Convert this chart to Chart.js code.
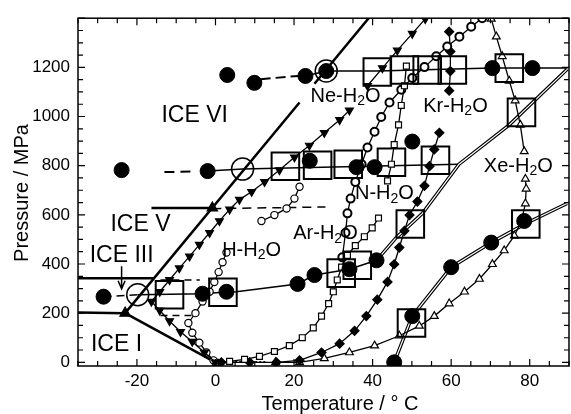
<!DOCTYPE html>
<html>
<head>
<meta charset="utf-8">
<script src="https://cdn.jsdelivr.net/npm/chart.js@4.4.0/dist/chart.umd.min.js"></script>
<style>
  html, body { margin: 0; padding: 0; background: #fff; }
</style>
</head>
<body>
<canvas id="phase" width="571" height="414"></canvas>
<script>
// Phase diagram of gas-water systems, temperature in degC, pressure in MPa

// axes
const tTicks = [-20, 0, 20, 40, 60, 80];
const pTicks = [0, 200, 400, 600, 800, 1000, 1200];

// ice boundaries (thick solid)
const iceIMeltT = [-23, 0];
const iceIMeltP = [200, 0];
const iceI3T = [-35, -23];
const iceI3P = [203, 200];
const iceMeltT = [-23, 21.4, null, 25.2, 39];
const iceMeltP = [200, 1057, null, 1133, 1400];
const ice35T = [-35, -15.6];
const ice35P = [342, 342];
const ice56T = [-16.3, -0.8];
const ice56P = [628, 628];
// metastable extensions (dashed)
const ext56T = [-0.8, 28];
const ext56P = [625, 632];
const ext35T = [-14, -4];
const ext35P = [335, 335];
const extI3T = [-14, -6];
const extI3P = [190, 190];
const dottedT = [3, 13];
const dottedP = [3, 3];
const tripleT = [-23, -0.8];
const tripleP = [200, 628];

// hydrate curves
const hT = [-0.5, -2.3, -4.1, -5.9, -6.9, -5.1, -3.3, -1.5, -0.3, 0.8, 1.8, 2.8, null, 11.7, 15.0, 18.1, 20.1, 21.4];
const hP = [8, 40, 80, 120, 160, 200, 247, 287, 327, 367, 407, 447, null, 575, 599, 626, 666, 714];

const neT = [0, -2.8, -5.9, -8.9, -11.7, -14.2, -16.3, -14.2, -11.7, -9.2, -6.6, -4.1, -1.5, 1.0, 3.6, 6.1, 9.2, 12.5, 16.3, 20.1, 23.9, 27.7, 31.6, 34.1, null, 38.7, 42.5, 46.3, 50.1, 53.4];
const neP = [0, 40, 84, 124, 168, 211, 247, 287, 335, 383, 431, 479, 527, 575, 622, 662, 694, 734, 782, 834, 882, 934, 986, 1025, null, 1125, 1197, 1269, 1337, 1397];

const arT = [0, 3.6, 7.4, 11.2, 15.0, 18.8, 22.1, 24.9, 27.0, 28.8, 30.0, 31.0, 32.1, 33.6, 35.6, 37.9, 39.9, 41.5, null, 43.8, 44.8, 45.5, 46.6, 47.3, 48.1, 48.6];
const arP = [0, 4, 12, 24, 44, 68, 100, 140, 188, 239, 287, 335, 387, 435, 475, 511, 547, 587, null, 738, 806, 886, 966, 1045, 1125, 1205];

const nT = [32.3, 33.1, 33.6, 34.4, 35.6, 37.2, 38.7, 40.5, 42.2, 44.3, 47.3, 50.1, 53.2, 56.2, 59.0, 62.1, 65.1, 67.9];
const nP = [427, 527, 606, 666, 734, 806, 874, 938, 998, 1057, 1109, 1157, 1201, 1245, 1285, 1325, 1365, 1400];

const krT = [1.5, 8.7, 15.5, 21.4, 27.0, 31.6, 35.4, 38.4, 41.2, 43.8, 45.5, 46.8, 48.1, 49.4, 51.4, 53.2, 54.5, 55.7, 57.0, null, 59.5, 59.8, 59.8, 59.5];
const krP = [0, 0, 0, 8, 40, 76, 128, 188, 255, 327, 399, 467, 535, 599, 654, 718, 798, 866, 934, null, 1105, 1185, 1265, 1345];

const xeT = [15.3, 21.4, 27.7, 34.1, 40.5, 46.8, 51.9, 55.7, 59.5, 63.4, 67.2, 70.5, 73.5, 76.1, 77.9, 78.9, 79.1, 78.9, null, 78.6, 77.6, 76.3, 74.8, 73.0, 71.5, 70.2];
const xeP = [0, 0, 16, 40, 68, 108, 148, 188, 239, 287, 339, 399, 455, 515, 575, 646, 706, 746, null, 858, 966, 1065, 1145, 1245, 1325, 1397];

// guide lines through the large symbols
const row300DashT = [-28.5, -19.8];
const row300DashP = [267, 275];
const row300T = [-19.8, -11.7, -3.3, 2.8, 5.3, 20.9, 25.2, 34.1, 41];
const row300P = [275, 277, 279, 286, 287, 319, 355, 379, 415];
const row800DashT = [-13, -6];
const row800DashP = [774, 776];
const row800T = [-2, 6.9, 62];
const row800P = [778, 786, 806];
const row1200DashT = [11.5, 21];
const row1200DashP = [1152, 1165];
const row1200T = [22.9, 28.2, 41.2, 70.5, 89.6];
const row1200P = [1165, 1185, 1185, 1197, 1197];
const xeUpT = [41, 46, 52.7, 62, 74.8, 89.6];
const xeUpP = [415, 507, 606, 806, 966, 1193];
const xeLowT = [45.5, 50.1, 60, 70.2, 79, 89.5];
const xeLowP = [0, 188, 387, 487, 565, 646];

// large symbols
const bigDotT = [-28.5, -3.3, 2.8, 20.9, 25.2, 34.1, 41, 45.5, 50.1, 60, 70.2, 78.6, -23.9, -2, 24, 35.9, 40.5, 50.1, 3, 9.9, 22.9, 28.2, 70.5, 80.7];
const bigDotP = [267, 279, 287, 319, 355, 379, 415, 0, 188, 387, 487, 575, 782, 778, 820, 794, 794, 898, 1169, 1137, 1165, 1185, 1197, 1197];
const bigSqT = [-11.7, 1.9, 32, 36.1, 49.9, 49.6, 79, 17.8, 26, 33.8, 44.8, 56, 41.2, 48.1, 53.9, 60.3, 74.8, 77.9];
const bigSqP = [275, 285, 363, 395, 160, 563, 563, 798, 802, 806, 814, 822, 1181, 1189, 1189, 1189, 1197, 1017];
const ringT = [-19.8, 6.9, 28.2];
const ringP = [275, 786, 1185];

// text on the plot
const labels = [
  { text: 'ICE VI', t: -5.3, p: 1005, big: true },
  { text: 'ICE V', t: -19.1, p: 559, big: true },
  { text: 'ICE III', t: -23.9, p: 435, big: true },
  { text: 'ICE I', t: -25.2, p: 72, big: true },
  { text: 'Ne-H2O', t: 33.1, p: 1081 },
  { text: 'Kr-H2O', t: 61.1, p: 1041 },
  { text: 'N-H2O', t: 43, p: 686 },
  { text: 'Xe-H2O', t: 77.1, p: 798 },
  { text: 'Ar-H2O', t: 28, p: 523 },
  { text: 'H-H2O', t: 9.2, p: 455 }
];
const arrowT = [-23.9, -23.9];
const arrowP = [391, 299];

const FONT = '"Liberation Sans", Arial, Helvetica, sans-serif';

// split a T/P pair at null entries
function segments(T, P) {
  const out = [[]];
  T.forEach((t, i) => {
    if (t === null) out.push([]);
    else out[out.length - 1].push({ x: t, y: P[i] });
  });
  return out.filter(s => s.length);
}

const datasets = [];
function addLine(T, P, opt) {
  segments(T, P).forEach(seg => datasets.push(Object.assign({
    data: seg, showLine: true, pointRadius: 0, borderColor: '#000',
    borderWidth: 2.5, tension: 0, order: 10
  }, opt)));
}
function addMarks(T, P, opt) {
  segments(T, P).forEach(seg => datasets.push(Object.assign({
    data: seg, showLine: true, borderColor: '#000', borderWidth: 1.3,
    pointBorderColor: '#000', pointBorderWidth: 1.2, tension: 0, order: 5
  }, opt)));
}

// ice
addLine(iceIMeltT, iceIMeltP, {});
addLine(iceI3T, iceI3P, {});
addLine(iceMeltT, iceMeltP, {});
addLine(ice35T, ice35P, {});
addLine(ice56T, ice56P, {});
addLine(ext56T, ext56P, { borderWidth: 1.5, borderDash: [9, 6] });
addLine(ext35T, ext35P, { borderWidth: 1.5, borderDash: [7, 5] });
addLine(extI3T, extI3P, { borderWidth: 1.5, borderDash: [7, 5] });
addLine(dottedT, dottedP, { borderWidth: 1, borderDash: [2, 2] });

// guide lines
addLine(row300DashT, row300DashP, { borderWidth: 1.5, borderDash: [8, 5], order: 9 });
addLine(row300T, row300P, { borderWidth: 1.5, order: 9 });
addLine(row800DashT, row800DashP, { borderWidth: 2, borderDash: [10, 6], order: 9 });
addLine(row800T, row800P, { borderWidth: 1.5, order: 9 });
addLine(row1200DashT, row1200DashP, { borderWidth: 2, borderDash: [10, 5], order: 9 });
addLine(row1200T, row1200P, { borderWidth: 1.5, order: 9 });
// double lines: dark edge then white core
addLine(xeUpT, xeUpP, { borderWidth: 3.5, order: 9 });
addLine(xeUpT, xeUpP, { borderWidth: 1.2, borderColor: '#fff', order: 8 });
addLine(xeLowT, xeLowP, { borderWidth: 3.5, order: 9 });
addLine(xeLowT, xeLowP, { borderWidth: 1.2, borderColor: '#fff', order: 8 });

// hydrate curves
addMarks(neT, neP, { pointStyle: 'triangle', rotation: 180, pointRadius: 4.5, pointBackgroundColor: '#000' });
addMarks(hT, hP, { pointStyle: 'circle', pointRadius: 3.6, pointBackgroundColor: '#fff' });
addMarks(arT, arP, { pointStyle: 'rect', pointRadius: 4.2, pointBackgroundColor: '#fff' });
addMarks(nT, nP, { pointStyle: 'circle', pointRadius: 4, pointBorderWidth: 2, pointBackgroundColor: '#fff' });
addMarks(krT, krP, { pointStyle: 'rectRot', pointRadius: 4.5, pointBackgroundColor: '#000' });
addMarks(xeT, xeP, { pointStyle: 'triangle', pointRadius: 4.5, pointBackgroundColor: '#fff' });
addMarks(tripleT, tripleP, { showLine: false, pointStyle: 'triangle', pointRadius: 6, pointBackgroundColor: '#000', order: 4 });

// large symbols
datasets.push({ data: segments(bigDotT, bigDotP)[0], pointStyle: 'circle', pointRadius: 7.5,
  pointBackgroundColor: '#000', pointBorderColor: '#000', order: 2, clip: 0 });
datasets.push({ data: segments(bigSqT, bigSqP)[0], pointStyle: 'rect', pointRadius: 19.5,
  pointBackgroundColor: 'rgba(0,0,0,0)', pointBorderColor: '#000', pointBorderWidth: 2, order: 1 });
datasets.push({ data: segments(ringT, ringP)[0], pointStyle: 'circle', pointRadius: 11,
  pointBackgroundColor: 'rgba(0,0,0,0)', pointBorderColor: '#000', pointBorderWidth: 1.5, order: 1 });

// text with subscript digits
function drawSubText(ctx, text, cx, cy, size) {
  const parts = [...text].map(ch => ({ ch, sub: /\d/.test(ch) }));
  let w = 0;
  parts.forEach(p => {
    ctx.font = (p.sub ? Math.round(size * 0.72) : size) + 'px ' + FONT;
    p.w = ctx.measureText(p.ch).width;
    w += p.w;
  });
  let px = cx - w / 2;
  parts.forEach(p => {
    ctx.font = (p.sub ? Math.round(size * 0.72) : size) + 'px ' + FONT;
    ctx.fillText(p.ch, px, p.sub ? cy + size * 0.25 : cy);
    px += p.w;
  });
}

const paper = {
  id: 'paper',
  beforeDraw(chart) {
    const ctx = chart.ctx;
    ctx.save();
    ctx.fillStyle = '#fff';
    ctx.fillRect(0, 0, chart.width, chart.height);
    ctx.restore();
  }
};

// box and inward ticks on all four sides
const frame = {
  id: 'frame',
  afterDatasetsDraw(chart) {
    const { ctx, chartArea: a, scales: { x, y } } = chart;
    ctx.save();
    ctx.strokeStyle = '#000';
    ctx.lineWidth = 1.5;
    ctx.strokeRect(a.left, a.top, a.right - a.left, a.bottom - a.top);
    ctx.lineWidth = 1.2;
    ctx.beginPath();
    for (let t = -35; t <= 90; t += 5) {
      const px = x.getPixelForValue(t);
      const len = t % 20 === 0 ? 7 : 5;
      ctx.moveTo(px, a.bottom); ctx.lineTo(px, a.bottom - len);
      ctx.moveTo(px, a.top); ctx.lineTo(px, a.top + len);
    }
    for (let p = 0; p <= 1400; p += 50) {
      const py = y.getPixelForValue(p);
      const len = p % 200 === 0 ? 7 : 5;
      ctx.moveTo(a.left, py); ctx.lineTo(a.left + len, py);
      ctx.moveTo(a.right, py); ctx.lineTo(a.right - len, py);
    }
    ctx.stroke();
    ctx.restore();
  }
};

const notes = {
  id: 'notes',
  afterDatasetsDraw(chart) {
    const { ctx, scales: { x, y } } = chart;
    ctx.save();
    ctx.fillStyle = '#000';
    ctx.strokeStyle = '#000';
    ctx.textAlign = 'left';
    ctx.textBaseline = 'middle';
    labels.forEach(l => {
      drawSubText(ctx, l.text, x.getPixelForValue(l.t), y.getPixelForValue(l.p), l.big ? 23 : 20);
    });
    // arrow under ICE III
    const ax = x.getPixelForValue(arrowT[0]);
    const y0 = y.getPixelForValue(arrowP[0]), y1 = y.getPixelForValue(arrowP[1]);
    ctx.lineWidth = 1.5;
    ctx.beginPath();
    ctx.moveTo(ax, y0); ctx.lineTo(ax, y1);
    ctx.moveTo(ax - 3.5, y1 - 8); ctx.lineTo(ax, y1); ctx.lineTo(ax + 3.5, y1 - 8);
    ctx.stroke();
    // axis titles
    ctx.textAlign = 'center';
    ctx.font = '20px ' + FONT;
    ctx.fillText('Temperature / \u00b0 C', 340, 404);
    ctx.translate(22, 193);
    ctx.rotate(-Math.PI / 2);
    ctx.fillText('Pressure / MPa', 0, 0);
    ctx.restore();
  }
};

new Chart(document.getElementById('phase'), {
  type: 'scatter',
  data: { datasets },
  options: {
    responsive: false,
    animation: false,
    events: [],
    layout: { padding: { top: 12, right: 2, left: 0, bottom: 0 }, autoPadding: false },
    plugins: { legend: { display: false }, tooltip: { enabled: false } },
    scales: {
      x: {
        type: 'linear', position: 'bottom', min: -35, max: 90,
        afterFit: s => { s.height = 48; },
        afterBuildTicks: s => { s.ticks = tTicks.map(v => ({ value: v })); },
        grid: { display: false, drawTicks: false },
        border: { display: false },
        ticks: { padding: 5, color: '#000', maxRotation: 0, autoSkip: false,
                 font: { size: 17, family: FONT }, callback: v => String(v) }
      },
      y: {
        type: 'linear', min: -15, max: 1400,
        afterFit: s => { s.width = 78; },
        afterBuildTicks: s => { s.ticks = pTicks.map(v => ({ value: v })); },
        grid: { display: false, drawTicks: false },
        border: { display: false },
        ticks: { padding: 8, color: '#000', autoSkip: false,
                 font: { size: 17, family: FONT }, callback: v => String(v) }
      }
    }
  },
  plugins: [paper, frame, notes]
});
</script>
</body>
</html>
